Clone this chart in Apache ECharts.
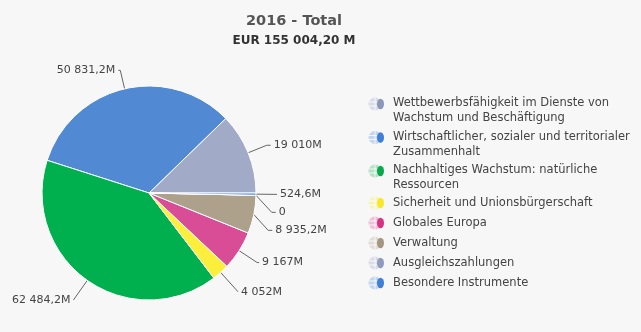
<!DOCTYPE html>
<html>
<head>
<meta charset="utf-8">
<script src="https://cdn.jsdelivr.net/npm/echarts@6/dist/echarts.min.js"></script>
<style>
  html, body { margin: 0; padding: 0; background: #f7f7f7; }
  #chart { width: 641px; height: 332px; }
</style>
</head>
<body>
<div id="chart"></div>
<script>
// Budget headings, 2016, in EUR million
const categories = [
  'Wettbewerbsfähigkeit im Dienste von Wachstum und Beschäftigung',
  'Wirtschaftlicher, sozialer und territorialer Zusammenhalt',
  'Nachhaltiges Wachstum: natürliche Ressourcen',
  'Sicherheit und Unionsbürgerschaft',
  'Globales Europa',
  'Verwaltung',
  'Ausgleichszahlungen',
  'Besondere Instrumente'
];
const values = [19010, 50831.2, 62484.2, 4052, 9167, 8935.2, 0, 524.6];
const sliceColors = ['#a1aac6', '#5289d3', '#00b04f', '#fbef3b', '#d94c96', '#ada18c', '#8f9cc0', '#4a86d8'];
const legendColors = ['#8a97ba', '#3f7fd6', '#0aa84c', '#f6e82a', '#d63382', '#a49681', '#8f9cc0', '#3f7fd6'];
const titleText = '2016 - Total';
const subtitleText = 'EUR 155 004,20 M';

// connector lengths per slice (first segment, second segment)
const connectorLen = [[20, 4], [19, 2], [24, 0], [26, 0], [22, 2], [20, 4], [20, 4], [20, 4]];

const legendFont = '11.5px "DejaVu Sans"';
const legendWrapWidth = 245;

// "50 831,2M" style: space for thousands, comma for decimals
function fmt(v) {
  const r = Math.round(v * 10) / 10;
  const intPart = Math.floor(r);
  const dec = Math.round((r - intPart) * 10);
  const s = String(intPart).replace(/\B(?=(\d{3})+(?!\d))/g, ' ');
  if (r === 0) return '0';
  return (dec ? s + ',' + dec : s) + 'M';
}

// word-wrap a legend name to the legend's text width
const measureCtx = document.createElement('canvas').getContext('2d');
measureCtx.font = legendFont;
function wrapLines(text) {
  const words = text.split(' ');
  const lines = [];
  let cur = '';
  words.forEach(w => {
    const t = cur ? cur + ' ' + w : w;
    if (cur && measureCtx.measureText(t).width > legendWrapWidth) {
      lines.push(cur);
      cur = w;
    } else {
      cur = t;
    }
  });
  lines.push(cur);
  return lines;
}

// two-line entries: the first line sits level with the symbol
function legendLabel(name) {
  const lines = wrapLines(name);
  if (lines.length < 2) return name;
  return '{first|' + lines[0] + '}\n{rest|' + lines.slice(1).join(' ') + '}';
}

// small two-tone pie glyph used as legend symbol
function legendIcon(c) {
  const svg = '<svg xmlns="http://www.w3.org/2000/svg" width="20" height="16">' +
    '<circle cx="7" cy="8" r="6.5" fill="' + c + '" fill-opacity="0.28"/>' +
    '<path d="M1 6 H9 M1 10 H9 M7 1.5 V14.5" stroke="#ffffff" stroke-width="1" stroke-opacity="0.8"/>' +
    '<ellipse cx="12.5" cy="8" rx="3.5" ry="5.3" fill="' + c + '"/></svg>';
  return 'image://data:image/svg+xml;charset=utf-8,' + encodeURIComponent(svg);
}

const legendText = { fontFamily: 'DejaVu Sans', fontSize: 11.5, color: '#444444' };

// entries are split into a wrapped block and a single-line block
const wrappedIdx = categories.map((n, i) => i).filter(i => wrapLines(categories[i]).length > 1);
const singleIdx = categories.map((n, i) => i).filter(i => wrapLines(categories[i]).length === 1);

function legendBlock(indices, top, gap) {
  return {
    orient: 'vertical',
    left: 363,
    top: top,
    itemWidth: 20,
    itemHeight: 16,
    itemGap: gap,
    selectedMode: false,
    data: indices.map(i => ({ name: categories[i], icon: legendIcon(legendColors[i]) })),
    formatter: legendLabel,
    textStyle: Object.assign({
      lineHeight: 15,
      rich: {
        first: Object.assign({ lineHeight: 29 }, legendText),
        rest: Object.assign({ lineHeight: 1 }, legendText)
      }
    }, legendText)
  };
}

const chart = echarts.init(document.getElementById('chart'), null, { renderer: 'canvas' });
chart.setOption({
  backgroundColor: '#f7f7f7',
  animation: false,
  title: {
    text: titleText,
    subtext: subtitleText,
    left: 289,
    textAlign: 'center',
    top: 9,
    itemGap: 6,
    textStyle: { fontFamily: 'DejaVu Sans', fontSize: 14.5, fontWeight: 'bold', color: '#555555' },
    subtextStyle: { fontFamily: 'DejaVu Sans', fontSize: 12, fontWeight: 'bold', color: '#333333' }
  },
  legend: [legendBlock(wrappedIdx, 84, -2), legendBlock(singleIdx, 190, 4)],
  series: [{
    type: 'pie',
    center: [149, 193],
    radius: 107,
    startAngle: 0,
    clockwise: false,
    minShowLabelAngle: 0,
    stillShowZeroSum: true,
    avoidLabelOverlap: true,
    data: categories.map((n, i) => ({
      name: n,
      value: values[i],
      itemStyle: { color: sliceColors[i] },
      labelLine: { length: connectorLen[i][0], length2: connectorLen[i][1] }
    })),
    itemStyle: { borderColor: '#ffffff', borderWidth: 1 },
    label: {
      show: true,
      formatter: p => fmt(p.value),
      fontFamily: 'DejaVu Sans',
      fontSize: 11,
      lineHeight: 16,
      color: '#444444',
      overflow: 'none',
      distanceToLabelLine: 3
    },
    labelLine: {
      show: true,
      length: 20,
      length2: 4,
      lineStyle: { color: '#666666', width: 1 }
    },
    emphasis: { disabled: true }
  }]
});
</script>
</body>
</html>
